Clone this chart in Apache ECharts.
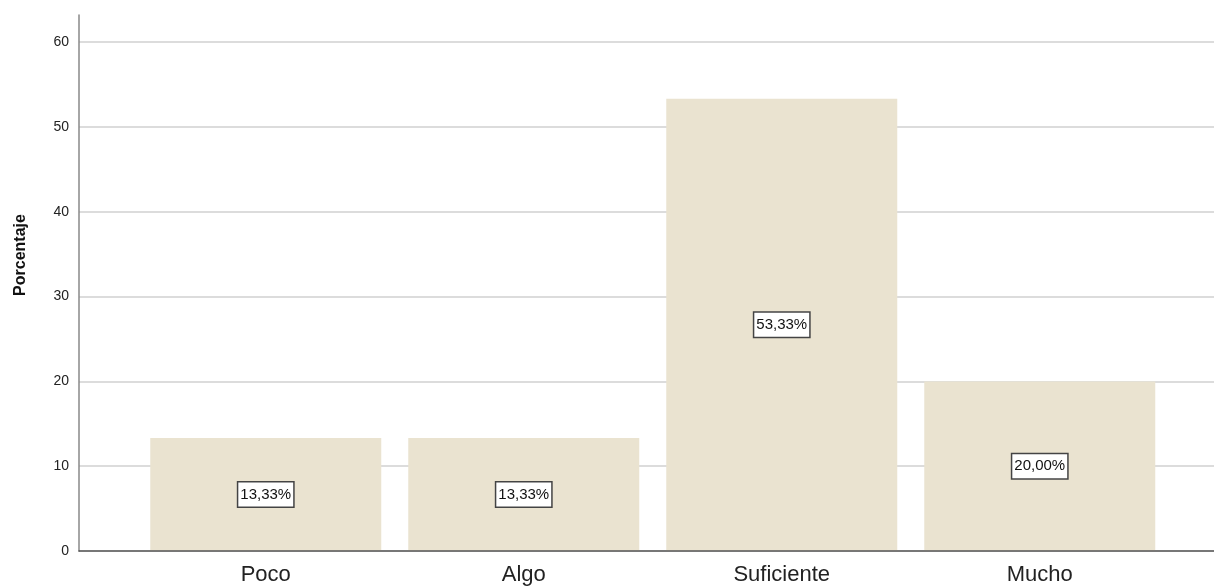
<!DOCTYPE html>
<html><head><meta charset="utf-8">
<script src="https://cdn.jsdelivr.net/npm/echarts@6/dist/echarts.min.js"></script>
<style>html,body{margin:0;padding:0;background:#fff}#c{width:1214px;height:587px}</style>
</head><body><div id="c"></div>
<script>
const categories = ['Poco', 'Algo', 'Suficiente', 'Mucho'];
const percentages = [13.33, 13.33, 53.33, 20.00];
const yTicks = [0, 10, 20, 30, 40, 50, 60];
const yTitle = 'Porcentaje';

const FONT = 'Liberation Sans, Arial, sans-serif';
const chart = echarts.init(document.getElementById('c'), null, {renderer: 'canvas'});
const yMax = 63.2;
const tickMax = yTicks[yTicks.length - 1];
const plotTop = 15, plotBottom = 36, plotH = 587 - plotTop - plotBottom;
const tickTop = plotTop + (yMax - tickMax) / yMax * plotH;
chart.setOption({
  animation: false,
  grid: [
    {left: 79, right: 0, top: plotTop, bottom: plotBottom},
    {left: 79, right: 0, top: tickTop, bottom: plotBottom},
    {left: 136.75, width: 1032, top: plotTop, bottom: plotBottom}
  ],
  graphic: [{
    type: 'text', x: 21, y: 255, rotation: Math.PI / 2,
    style: {text: yTitle, fontFamily: FONT, fontSize: 16, fontWeight: 'bold', fill: '#111',
      textAlign: 'center', textVerticalAlign: 'middle'}
  }],
  xAxis: [
    {gridIndex: 0, type: 'value', min: 0, max: 1, z: 5,
     axisLine: {show: true, onZero: false, lineStyle: {color: '#555', width: 1.5}},
     axisTick: {show: false}, axisLabel: {show: false}, splitLine: {show: false}},
    {gridIndex: 1, type: 'value', min: 0, max: 1, show: false},
    {gridIndex: 2, type: 'category', data: categories, axisLine: {show: false}, axisTick: {show: false},
     axisLabel: {fontFamily: FONT, fontSize: 22, color: '#222', margin: 13}}
  ],
  yAxis: [
    {gridIndex: 0, type: 'value', min: 0, max: yMax, z: 5,
     axisLine: {show: true, lineStyle: {color: '#888', width: 1.5}},
     axisTick: {show: false}, axisLabel: {show: false}, splitLine: {show: false}},
    {gridIndex: 1, type: 'value', min: yTicks[0], max: tickMax, interval: 10,
     axisLine: {show: false}, axisTick: {show: false},
     axisLabel: {fontFamily: FONT, fontSize: 14, color: '#222', margin: 10},
     splitLine: {show: true, lineStyle: {color: '#d0d0d0', width: 1.5}}},
    {gridIndex: 2, type: 'value', min: 0, max: yMax, show: false}
  ],
  series: [{
    type: 'bar', xAxisIndex: 2, yAxisIndex: 2, data: percentages, barWidth: 231,
    itemStyle: {color: '#EAE3D0'},
    label: {show: true, position: 'inside',
      formatter: p => p.value.toFixed(2).replace('.', ',') + '%',
      fontFamily: FONT, fontSize: 15, color: '#111',
      backgroundColor: '#fff', borderColor: '#444', borderWidth: 1.5, padding: [5, 2, 4, 2]}
  }]
});
</script></body></html>
